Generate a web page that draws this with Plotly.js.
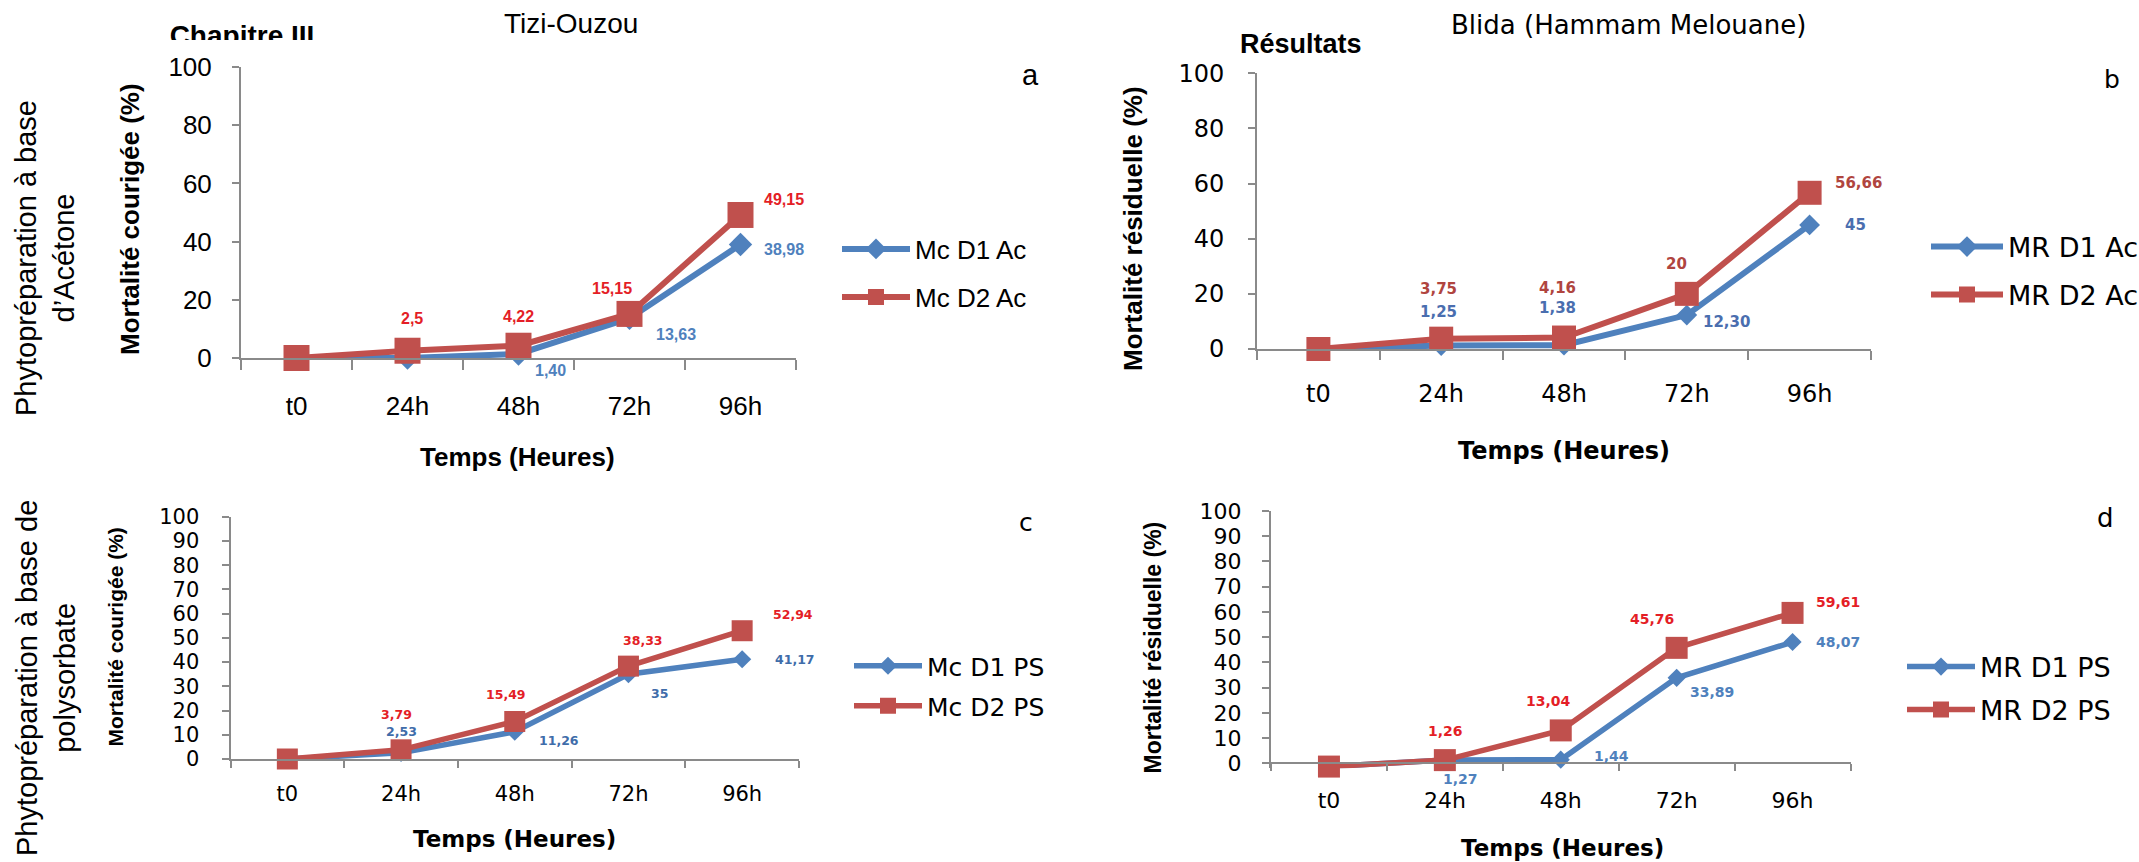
<!DOCTYPE html>
<html>
<head>
<meta charset="utf-8">
<script src="https://cdn.plot.ly/plotly-3.0.1.min.js"></script>
<style>html,body{margin:0;padding:0;background:#fff;}#chart{width:2139px;height:862px;}</style>
</head>
<body>
<div id="chart"></div>
<script>
// ---------------- DATA ----------------
const categories = ['t0', '24h', '48h', '72h', '96h'];

// a : Tizi-Ouzou, acetone
const mcD1Ac = [0, 0, 1.40, 13.63, 38.98];
const mcD2Ac = [0, 2.5, 4.22, 15.15, 49.15];
const mcD1AcLabels = [null, null, '1,40', '13,63', '38,98'];
const mcD2AcLabels = [null, '2,5', '4,22', '15,15', '49,15'];

// b : Blida (Hammam Melouane), acetone
const mrD1Ac = [0, 1.25, 1.38, 12.30, 45];
const mrD2Ac = [0, 3.75, 4.16, 20, 56.66];
const mrD1AcLabels = [null, '1,25', '1,38', '12,30', '45'];
const mrD2AcLabels = [null, '3,75', '4,16', '20', '56,66'];

// c : Tizi-Ouzou, polysorbate
const mcD1PS = [0, 2.53, 11.26, 35, 41.17];
const mcD2PS = [0, 3.79, 15.49, 38.33, 52.94];
const mcD1PSLabels = [null, '2,53', '11,26', '35', '41,17'];
const mcD2PSLabels = [null, '3,79', '15,49', '38,33', '52,94'];

// d : Blida, polysorbate
const mrD1PS = [-1.3, 1.27, 1.44, 33.89, 48.07];
const mrD2PS = [-1.3, 1.26, 13.04, 45.76, 59.61];
const mrD1PSLabels = [null, '1,27', '1,44', '33,89', '48,07'];
const mrD2PSLabels = [null, '1,26', '13,04', '45,76', '59,61'];

const seriesNames = {
  a: ['Mc D1 Ac', 'Mc D2 Ac'],
  b: ['MR D1 Ac', 'MR D2 Ac'],
  c: ['Mc D1 PS', 'Mc D2 PS'],
  d: ['MR D1 PS', 'MR D2 PS']
};
const yTitles = {
  a: 'Mortalité courigée (%)',
  b: 'Mortalité résiduelle (%)',
  c: 'Mortalité courigée (%)',
  d: 'Mortalité résiduelle (%)'
};
const xTitle = 'Temps (Heures)';
const siteTitles = ['Tizi-Ouzou', 'Blida (Hammam Melouane)'];
const rowTitles = ['Phytopréparation à base<br>d’Acétone', 'Phytopréparation à base de<br>polysorbate'];

// ---------------- STYLE ----------------
const W = 2139, H = 862;
const fx = v => v / W;
const fy = v => 1 - v / H;
const BLUE = '#4F81BD', RED = '#C0504D', AXIS = '#8A8A8A';
const ARIAL = 'Arial, "Liberation Sans", sans-serif';
const DEJA = '"DejaVu Sans", sans-serif';

const panels = [
  { key: 'a', xa: 'x', ya: 'y', d1: mcD1Ac, d2: mcD2Ac, l1: mcD1AcLabels, l2: mcD2AcLabels,
    x0: 241, x1: 796, yZero: 358, yTop: 67, yMin: 0, dtick: 20, font: ARIAL, tickSize: 26, xTickLen: 10,
    xStand: 24, yStand: 15, lineW: 6, sq: 26, dia: 18,
    off1: [null, null, [32, -17], [46, -16], [43, -5]],
    off2: [null, [4, 32], [0, 29], [-18, 25], [43, 15]],
    lab: { family: ARIAL, size: 16, c1: BLUE, c2: '#E41E26' },
    legend: { x: 837, y: [249, 297], size: 26, font: ARIAL, iw: 68 },
    xt: { x: 517, y: 457, font: ARIAL, size: 26 },
    yt: { x: 130, y: 219, size: 26 },
    letter: { t: 'a', x: 1030, y: 75, font: ARIAL, size: 29 } },
  { key: 'b', xa: 'x2', ya: 'y2', d1: mrD1Ac, d2: mrD2Ac, l1: mrD1AcLabels, l2: mrD2AcLabels,
    x0: 1257, x1: 1871, yZero: 349, yTop: 73.3, yMin: 0, dtick: 20, font: DEJA, tickSize: 24, xTickLen: 9,
    xStand: 22, yStand: 19, lineW: 6, sq: 24, dia: 16,
    off1: [null, [-3, 34], [-7, 37], [40, -7], [46, 0]],
    off2: [null, [-3, 50], [-7, 50], [-10, 30], [49, 10]],
    lab: { family: DEJA, size: 15, c1: '#4A6EAF', c2: '#B0453F' },
    legend: { x: 1926, y: [247, 295], size: 27, font: DEJA, iw: 72 },
    xt: { x: 1564, y: 451, font: DEJA, size: 24 },
    yt: { x: 1133, y: 229, size: 26 },
    letter: { t: 'b', x: 2112, y: 79, font: DEJA, size: 25 } },
  { key: 'c', xa: 'x3', ya: 'y3', d1: mcD1PS, d2: mcD2PS, l1: mcD1PSLabels, l2: mcD2PSLabels,
    x0: 230.5, x1: 799, yZero: 759, yTop: 516.7, yMin: 0, dtick: 10, font: DEJA, tickSize: 21, xTickLen: 7,
    xStand: 15, yStand: 18, lineW: 5.5, sq: 21, dia: 14,
    off1: [null, [0, 21], [44, -9], [31, -19], [53, 0]],
    off2: [null, [-5, 35], [-9, 27], [15, 26], [51, 16]],
    lab: { family: DEJA, size: 12.5, c1: '#3F6DAA', c2: '#E41E26' },
    legend: { x: 849, y: [666, 706], size: 25, font: DEJA, iw: 68 },
    xt: { x: 514, y: 839, font: DEJA, size: 23 },
    yt: { x: 115, y: 637.5, size: 21 },
    letter: { t: 'c', x: 1026, y: 522, font: DEJA, size: 25 } },
  { key: 'd', xa: 'x4', ya: 'y4', d1: mrD1PS, d2: mrD2PS, l1: mrD1PSLabels, l2: mrD2PSLabels,
    x0: 1271, x1: 1850.5, yZero: 763.3, yTop: 511, yMin: -2, dtick: 10, font: DEJA, tickSize: 22, xTickLen: 7,
    xStand: 17, yStand: 16, lineW: 5.5, sq: 22, dia: 14,
    off1: [null, [16, -19], [51, 4], [35, -14], [45, 0]],
    off2: [null, [1, 29], [-12, 29], [-25, 29], [45, 11]],
    lab: { family: DEJA, size: 14, c1: BLUE, c2: '#E41E26' },
    legend: { x: 1902, y: [667, 710], size: 27, font: DEJA, iw: 68 },
    xt: { x: 1562, y: 848, font: DEJA, size: 23 },
    yt: { x: 1152, y: 647.5, size: 23 },
    letter: { t: 'd', x: 2105, y: 518, font: DEJA, size: 26 } }
];

const data = [];
const annotations = [];
const layout = {
  width: W, height: H,
  margin: { l: 0, r: 0, t: 0, b: 0, autoexpand: false },
  paper_bgcolor: '#fff', plot_bgcolor: 'rgba(0,0,0,0)',
  showlegend: true,
  hovermode: false
};

panels.forEach((p, i) => {
  const n = i === 0 ? '' : String(i + 1);
  const series = [
    { y: p.d1, name: seriesNames[p.key][0], color: BLUE, symbol: 'diamond', size: p.dia },
    { y: p.d2, name: seriesNames[p.key][1], color: RED, symbol: 'square', size: p.sq }
  ];
  series.forEach((s, k) => {
    const li = i * 2 + k + 1;
    const legName = li === 1 ? 'legend' : 'legend' + li;
    data.push({
      type: 'scatter', mode: 'lines+markers',
      x: categories, y: s.y, name: s.name,
      xaxis: p.xa, yaxis: p.ya,
      legend: legName,
      line: { color: s.color, width: p.lineW },
      marker: { color: s.color, symbol: s.symbol, size: s.size, line: { width: 0 } },
      cliponaxis: false
    });
    layout[legName] = {
      x: fx(p.legend.x), y: fy(p.legend.y[k]), xanchor: 'left', yanchor: 'middle',
      xref: 'paper', yref: 'paper',
      itemwidth: p.legend.iw,
      font: { family: p.legend.font, size: p.legend.size, color: '#000' },
      bgcolor: 'rgba(0,0,0,0)', borderwidth: 0
    };
  });

  const pxPerUnit = (p.yZero - p.yTop) / 100;
  const yBottomPx = p.yZero - p.yMin * pxPerUnit;
  const xax = {
    domain: [fx(p.x0), fx(p.x1)],
    type: 'category', categoryorder: 'array', categoryarray: categories,
    range: [-0.5, 4.5],
    showline: true, linecolor: AXIS, linewidth: 2,
    ticks: 'outside', tickson: 'boundaries', ticklen: p.xTickLen, tickcolor: AXIS, tickwidth: 2,
    tickfont: { family: p.font, size: p.tickSize, color: '#000' },
    ticklabelstandoff: p.xStand,
    showgrid: false, zeroline: false, fixedrange: true
  };
  if (p.yMin < 0) { xax.anchor = 'free'; xax.position = fy(p.yZero); } else { xax.anchor = p.ya; }
  layout['xaxis' + n] = xax;
  layout['yaxis' + n] = {
    domain: [fy(yBottomPx), fy(p.yTop)], anchor: p.xa,
    range: [p.yMin, 100], tick0: 0, dtick: p.dtick,
    showline: true, linecolor: AXIS, linewidth: 2,
    ticks: 'outside', ticklen: 7, tickcolor: AXIS, tickwidth: 2,
    tickfont: { family: p.font, size: p.tickSize, color: '#000' },
    ticklabelstandoff: p.yStand,
    showgrid: false, zeroline: false, fixedrange: true
  };

  // data labels
  [[p.d1, p.l1, p.off1, p.lab.c1], [p.d2, p.l2, p.off2, p.lab.c2]].forEach(([vals, labs, offs, col]) => {
    labs.forEach((t, j) => {
      if (!t) return;
      annotations.push({
        x: categories[j], y: vals[j], xref: p.xa, yref: p.ya,
        text: t, showarrow: false, xanchor: 'center', yanchor: 'middle',
        xshift: offs[j][0], yshift: offs[j][1],
        font: { family: p.lab.family, size: p.lab.size, color: col, weight: 'bold' }
      });
    });
  });

  // axis titles
  annotations.push({
    text: '<b>' + xTitle + '</b>', x: fx(p.xt.x), y: fy(p.xt.y), xref: 'paper', yref: 'paper',
    showarrow: false, xanchor: 'center', yanchor: 'middle',
    font: { family: p.xt.font, size: p.xt.size, color: '#000' }
  });
  annotations.push({
    text: '<b>' + yTitles[p.key] + '</b>', x: fx(p.yt.x), y: fy(p.yt.y), xref: 'paper', yref: 'paper',
    showarrow: false, xanchor: 'center', yanchor: 'middle', textangle: -90,
    font: { family: ARIAL, size: p.yt.size, color: '#000' }
  });
  // panel letter
  annotations.push({
    text: p.letter.t, x: fx(p.letter.x), y: fy(p.letter.y), xref: 'paper', yref: 'paper',
    showarrow: false, xanchor: 'center', yanchor: 'middle',
    font: { family: p.letter.font, size: p.letter.size, color: '#000' }
  });
});

// column headings
annotations.push({
  text: siteTitles[0], x: fx(571), y: fy(24), xref: 'paper', yref: 'paper',
  showarrow: false, xanchor: 'center', yanchor: 'middle',
  font: { family: ARIAL, size: 28, color: '#000' }
});
annotations.push({
  text: siteTitles[1], x: fx(1628), y: fy(25), xref: 'paper', yref: 'paper',
  showarrow: false, xanchor: 'center', yanchor: 'middle',
  font: { family: DEJA, size: 26, color: '#000' }
});
annotations.push({
  text: '<b>Résultats</b>', x: fx(1301), y: fy(43.5), xref: 'paper', yref: 'paper',
  showarrow: false, xanchor: 'center', yanchor: 'middle',
  font: { family: ARIAL, size: 27, color: '#000' }
});
// row headings
annotations.push({
  text: rowTitles[0], x: fx(45), y: fy(258), xref: 'paper', yref: 'paper',
  showarrow: false, xanchor: 'center', yanchor: 'middle', textangle: -90,
  font: { family: ARIAL, size: 29, color: '#000' }
});
annotations.push({
  text: rowTitles[1], x: fx(46), y: fy(678), xref: 'paper', yref: 'paper',
  showarrow: false, xanchor: 'center', yanchor: 'middle', textangle: -90,
  font: { family: ARIAL, size: 29, color: '#000' }
});

// clipped page header "Chapitre III" (only its top part shows)
layout.xaxis5 = { domain: [0, 0.5], range: [0, 1069.5], visible: false, fixedrange: true, anchor: 'y5' };
layout.yaxis5 = { domain: [fy(40), 1], range: [40, 0], visible: false, fixedrange: true, anchor: 'x5' };
data.push({
  type: 'scatter', mode: 'text', x: [242], y: [38], text: ['<b>Chapitre III</b>'],
  textposition: 'middle center', textfont: { family: ARIAL, size: 28, color: '#000' },
  xaxis: 'x5', yaxis: 'y5', showlegend: false, cliponaxis: true, hoverinfo: 'skip'
});

layout.annotations = annotations;

Plotly.newPlot('chart', data, layout, { displayModeBar: false, staticPlot: true });
</script>
</body>
</html>
